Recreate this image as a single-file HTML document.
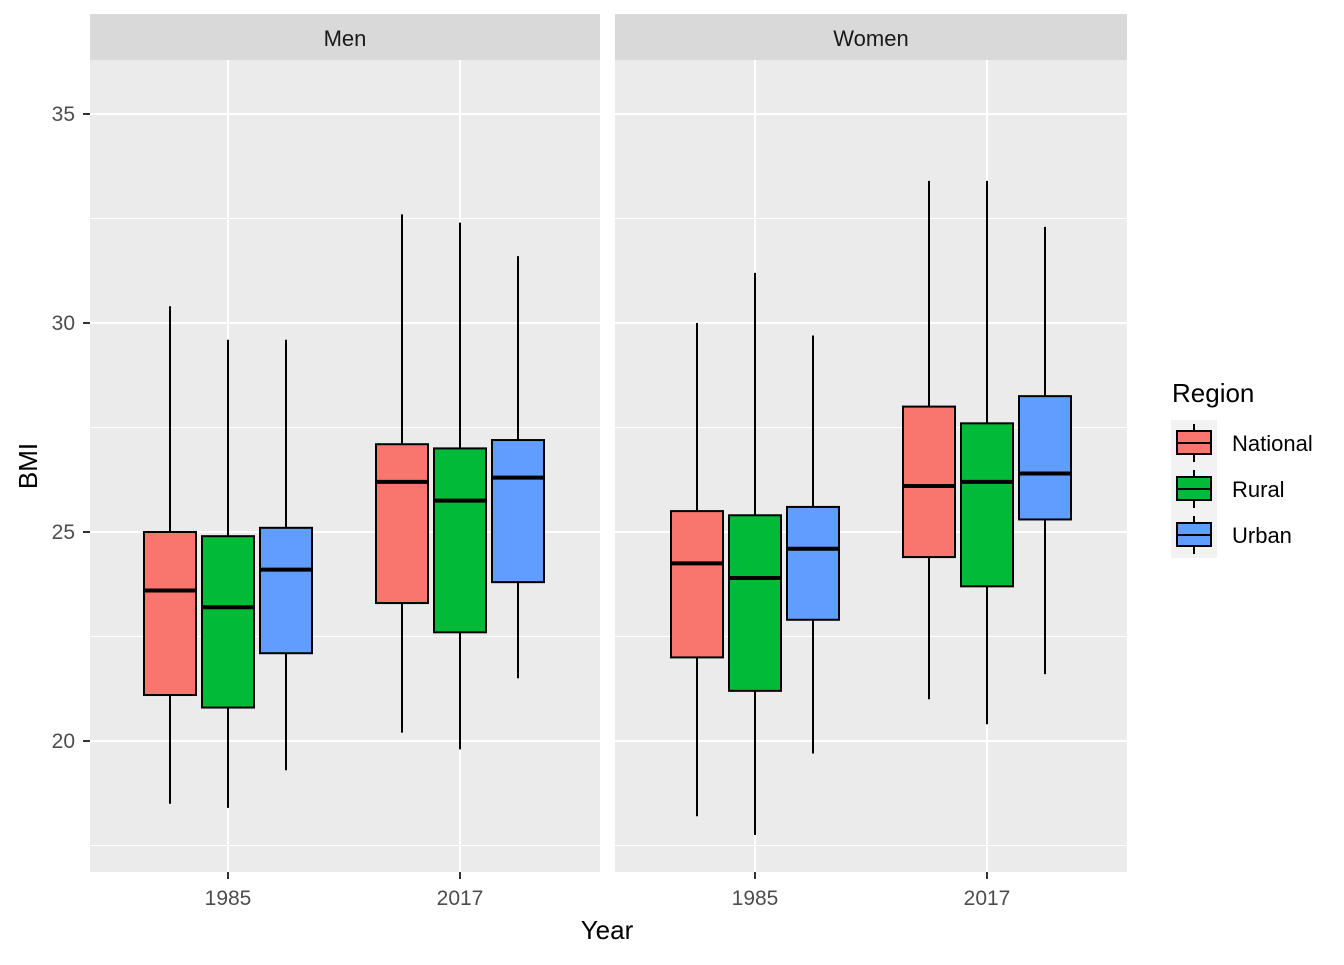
<!DOCTYPE html>
<html><head><meta charset="utf-8"><style>
body{margin:0;background:#fff}
svg text{font-family:"Liberation Sans",Arial,sans-serif}
</style></head><body>
<svg id="chart" width="1344" height="960" xmlns="http://www.w3.org/2000/svg"></svg>
<script>
const panels = ["Men","Women"];
const years = ["1985","2017"];
const regions = ["National","Rural","Urban"];
const colors = ["#F8766D","#00BA38","#619CFF"];
const yTicks = [20,25,30,35];
// [year][region] = [lowWhisker, q1, median, q3, highWhisker]
const menStats = [
  [[18.5,21.1,23.6,25.0,30.4],[18.4,20.8,23.2,24.9,29.6],[19.3,22.1,24.1,25.1,29.6]],
  [[20.2,23.3,26.2,27.1,32.6],[19.8,22.6,25.75,27.0,32.4],[21.5,23.8,26.3,27.2,31.6]]
];
const womenStats = [
  [[18.2,22.0,24.25,25.5,30.0],[17.75,21.2,23.9,25.4,31.2],[19.7,22.9,24.6,25.6,29.7]],
  [[21.0,24.4,26.1,28.0,33.4],[20.4,23.7,26.2,27.6,33.4],[21.6,25.3,26.4,28.25,32.3]]
];
const stats=[menStats,womenStats];
const NS="http://www.w3.org/2000/svg";
const svg=document.getElementById('chart');
function mk(t,a,p){const e=document.createElementNS(NS,t);for(const k in a)e.setAttribute(k,a[k]);(p||svg).appendChild(e);return e;}
const Y=v=>741-(v-20)*41.8;
const panelX=[90,615], panelW=[510,512], centerOff=[[138,370],[140,372]];
const plotTop=60,plotBottom=872;
panels.forEach((pn,pi)=>{
  const x0=panelX[pi],w=panelW[pi];
  const g=mk('g',{});
  
  
  const bg=mk('rect',{x:x0,y:plotTop,width:w,height:plotBottom-plotTop,fill:'#EBEBEB'},g);
  
  
  const st=mk('rect',{x:x0,y:14,width:w,height:46,fill:'#D9D9D9'},g);
  
  
  const stt=mk('text',{x:x0+w/2,y:46,'text-anchor':'middle','font-size':22,fill:'#1A1A1A'},g);stt.textContent=pn;
  
  
  for(let v=17.5;v<=35;v+=5){mk('line',{x1:x0,x2:x0+w,y1:Y(v),y2:Y(v),stroke:'#fff','stroke-width':1},g);}
  yTicks.forEach(v=>mk('line',{x1:x0,x2:x0+w,y1:Y(v),y2:Y(v),stroke:'#fff','stroke-width':2},g));
  const cx=[x0+centerOff[pi][0],x0+centerOff[pi][1]];
  cx.forEach(c=>mk('line',{x1:c,x2:c,y1:plotTop,y2:plotBottom,stroke:'#fff','stroke-width':2},g));
  years.forEach((yr,yi)=>{
    const t=mk('text',{x:cx[yi],y:905,'text-anchor':'middle','font-size':21,fill:'#4D4D4D'},g);t.textContent=yr;
    
    
    mk('line',{x1:cx[yi],x2:cx[yi],y1:872,y2:879,stroke:'#333','stroke-width':2},g);
    regions.forEach((r,ri)=>{
      const s=stats[pi][yi][ri];const c=cx[yi]+(ri-1)*58;
      const bx=mk('g',{},g);
      
      
      mk('line',{x1:c,x2:c,y1:Y(s[0]),y2:Y(s[4]),stroke:'#000','stroke-width':2},bx);
      mk('rect',{x:c-26,y:Y(s[3]),width:52,height:Y(s[1])-Y(s[3]),fill:colors[ri],stroke:'#000','stroke-width':2},bx);
      mk('line',{x1:c-26,x2:c+26,y1:Y(s[2]),y2:Y(s[2]),stroke:'#000','stroke-width':4},bx);
    });
  });
});
yTicks.forEach(v=>{
  const t=mk('text',{x:75,y:Y(v)+7,'text-anchor':'end','font-size':21,fill:'#4D4D4D'});t.textContent=v;
  
  
  mk('line',{x1:83,x2:90,y1:Y(v),y2:Y(v),stroke:'#333','stroke-width':2});
});
let t=mk('text',{x:607,y:939,'text-anchor':'middle','font-size':26,fill:'#000'});t.textContent='Year';


t=mk('text',{x:37,y:466,'text-anchor':'middle','font-size':26,fill:'#000',transform:'rotate(-90 37 466)'});t.textContent='BMI';


t=mk('text',{x:1172,y:402,'font-size':26,fill:'#000'});t.textContent='Region';


regions.forEach((r,ri)=>{
  const g=mk('g',{});
  
  
  const y0=420+ri*46;
  mk('rect',{x:1171,y:y0,width:46,height:46,fill:'#F2F2F2'},g);
  mk('line',{x1:1194,x2:1194,y1:y0+4,y2:y0+42,stroke:'#000','stroke-width':2},g);
  mk('rect',{x:1177,y:y0+11,width:34,height:23,fill:colors[ri],stroke:'#000','stroke-width':2},g);
  mk('line',{x1:1177,x2:1211,y1:y0+23,y2:y0+23,stroke:'#000','stroke-width':2},g);
  const tt=mk('text',{x:1232,y:y0+31,'font-size':22,fill:'#000'},g);tt.textContent=r;
});
</script>
</body></html>
